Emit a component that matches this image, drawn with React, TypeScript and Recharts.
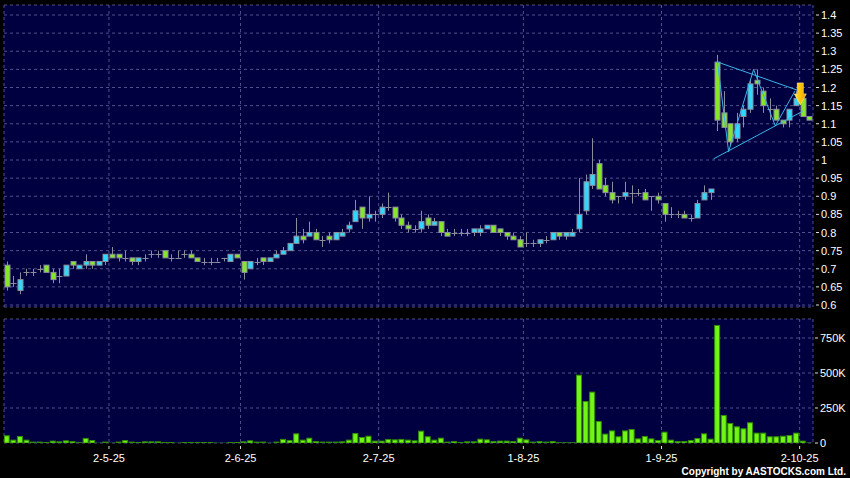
import { ComposedChart, Bar, XAxis, YAxis, CartesianGrid, ReferenceLine, ReferenceDot } from 'recharts';

// daily candles, oldest first
const opens = [
  0.71, 0.66, 0.64, 0.69, 0.69, 0.70, 0.71, 0.69, 0.68, 0.68, 0.72, 0.70, 0.71, 0.72, 0.71, 0.72, 0.74, 0.74, 0.73, 0.73,
  0.72, 0.73, 0.74, 0.74, 0.75, 0.73, 0.73, 0.74, 0.74, 0.73, 0.72, 0.72, 0.72, 0.73, 0.72, 0.74, 0.72, 0.70, 0.72, 0.73,
  0.72, 0.73, 0.74, 0.75, 0.77, 0.79, 0.79, 0.80, 0.78, 0.79, 0.78, 0.79, 0.81, 0.83, 0.87, 0.84, 0.85, 0.85, 0.87, 0.87,
  0.84, 0.82, 0.81, 0.81, 0.84, 0.82, 0.83, 0.80, 0.80, 0.80, 0.80, 0.80, 0.80, 0.81, 0.82, 0.81, 0.80, 0.79, 0.78, 0.77,
  0.77, 0.77, 0.78, 0.78, 0.80, 0.79, 0.79, 0.81, 0.86, 0.93, 0.99, 0.93, 0.91, 0.90, 0.90, 0.91, 0.91, 0.91, 0.90, 0.90,
  0.88, 0.85, 0.85, 0.85, 0.84, 0.84, 0.89, 0.91, 1.27, 1.13, 1.10, 1.06, 1.12, 1.14, 1.22, 1.19, 1.14, 1.14, 1.11, 1.11,
  1.15, 1.17, 1.12,
];
const highs = [
  0.72, 0.68, 0.69, 0.70, 0.70, 0.71, 0.71, 0.70, 0.70, 0.71, 0.72, 0.71, 0.74, 0.72, 0.72, 0.74, 0.76, 0.74, 0.75, 0.73,
  0.73, 0.74, 0.75, 0.75, 0.75, 0.74, 0.75, 0.75, 0.75, 0.73, 0.73, 0.73, 0.73, 0.73, 0.74, 0.74, 0.72, 0.72, 0.73, 0.73,
  0.73, 0.75, 0.76, 0.77, 0.84, 0.81, 0.83, 0.81, 0.79, 0.80, 0.80, 0.81, 0.83, 0.89, 0.87, 0.90, 0.86, 0.88, 0.91, 0.87,
  0.85, 0.83, 0.82, 0.86, 0.85, 0.84, 0.83, 0.81, 0.81, 0.81, 0.81, 0.81, 0.82, 0.82, 0.82, 0.81, 0.80, 0.80, 0.79, 0.80,
  0.78, 0.78, 0.79, 0.80, 0.80, 0.80, 0.81, 0.95, 0.96, 1.06, 1.00, 0.95, 0.94, 0.90, 0.94, 0.93, 0.92, 0.92, 0.90, 0.91,
  0.88, 0.87, 0.86, 0.86, 0.85, 0.89, 0.93, 0.92, 1.29, 1.19, 1.10, 1.13, 1.15, 1.22, 1.25, 1.20, 1.17, 1.15, 1.11, 1.14,
  1.19, 1.18, 1.12,
];
const lows = [
  0.64, 0.65, 0.63, 0.68, 0.68, 0.69, 0.69, 0.66, 0.66, 0.68, 0.70, 0.70, 0.70, 0.70, 0.71, 0.71, 0.73, 0.72, 0.72, 0.71,
  0.71, 0.72, 0.73, 0.73, 0.73, 0.72, 0.73, 0.73, 0.73, 0.72, 0.71, 0.71, 0.72, 0.72, 0.72, 0.73, 0.67, 0.70, 0.71, 0.71,
  0.72, 0.73, 0.74, 0.75, 0.77, 0.77, 0.79, 0.78, 0.76, 0.77, 0.78, 0.79, 0.80, 0.83, 0.81, 0.83, 0.83, 0.84, 0.86, 0.83,
  0.81, 0.80, 0.80, 0.80, 0.81, 0.82, 0.79, 0.79, 0.79, 0.79, 0.79, 0.79, 0.79, 0.81, 0.80, 0.79, 0.78, 0.78, 0.76, 0.76,
  0.76, 0.76, 0.77, 0.78, 0.78, 0.78, 0.79, 0.80, 0.85, 0.92, 0.92, 0.90, 0.88, 0.88, 0.89, 0.88, 0.90, 0.89, 0.86, 0.88,
  0.83, 0.84, 0.84, 0.84, 0.83, 0.84, 0.89, 0.89, 1.08, 1.09, 1.04, 1.05, 1.09, 1.13, 1.18, 1.13, 1.11, 1.11, 1.09, 1.09,
  1.15, 1.12, 1.11,
];
const closes = [
  0.65, 0.66, 0.67, 0.69, 0.69, 0.70, 0.69, 0.67, 0.68, 0.71, 0.71, 0.71, 0.72, 0.71, 0.72, 0.74, 0.73, 0.73, 0.73, 0.72,
  0.73, 0.73, 0.74, 0.74, 0.73, 0.73, 0.73, 0.74, 0.73, 0.72, 0.72, 0.72, 0.72, 0.73, 0.74, 0.73, 0.69, 0.72, 0.72, 0.72,
  0.73, 0.74, 0.75, 0.77, 0.79, 0.78, 0.80, 0.78, 0.78, 0.78, 0.80, 0.80, 0.82, 0.86, 0.84, 0.85, 0.85, 0.87, 0.87, 0.84,
  0.82, 0.81, 0.81, 0.83, 0.82, 0.83, 0.80, 0.79, 0.80, 0.80, 0.80, 0.81, 0.81, 0.82, 0.80, 0.80, 0.79, 0.78, 0.76, 0.77,
  0.77, 0.78, 0.78, 0.80, 0.79, 0.80, 0.80, 0.85, 0.94, 0.96, 0.92, 0.91, 0.89, 0.90, 0.91, 0.91, 0.91, 0.89, 0.90, 0.89,
  0.85, 0.85, 0.85, 0.84, 0.84, 0.88, 0.91, 0.92, 1.11, 1.09, 1.05, 1.10, 1.14, 1.21, 1.21, 1.15, 1.14, 1.11, 1.10, 1.14,
  1.17, 1.12, 1.11,
];
// volume in thousands of shares
const volumes = [
  55, 24, 50, 24, 10, 10, 7, 17, 12, 19, 14, 5, 36, 21, 2, 10, 2, 10, 21, 10,
  7, 12, 12, 12, 7, 7, 2, 7, 7, 7, 7, 7, 2, 2, 7, 7, 12, 19, 10, 10,
  2, 10, 29, 21, 69, 24, 38, 14, 10, 10, 10, 12, 24, 71, 43, 52, 17, 17, 29, 26,
  29, 24, 19, 88, 48, 24, 38, 10, 14, 7, 12, 12, 31, 26, 14, 17, 17, 14, 38, 26,
  10, 14, 10, 14, 5, 5, 5, 488, 300, 367, 157, 67, 90, 48, 90, 100, 33, 50, 33, 21,
  81, 24, 14, 14, 21, 36, 69, 31, 843, 200, 143, 119, 105, 148, 74, 74, 48, 48, 52, 57,
  74, 17, 3,
];

const dateTicks = [15.5, 35.5, 56.5, 78.5, 99.5, 120.5];
const dateLabels = ['2-5-25', '2-6-25', '2-7-25', '1-8-25', '1-9-25', '2-10-25'];
const priceTicks = [0.6, 0.65, 0.7, 0.75, 0.8, 0.85, 0.9, 0.95, 1, 1.05, 1.1, 1.15, 1.2, 1.25, 1.3, 1.35, 1.4];
const volumeTicks = [0, 250000, 500000, 750000];

// hand-drawn triangle + arrow on the last weeks
const upperLine = [{ x: 107.9, y: 1.271 }, { x: 120.1, y: 1.193 }];
const lowerLine = [{ x: 107.4, y: 1.003 }, { x: 121, y: 1.135 }];
const zigzag = [
  { x: 108, y: 1.271 },
  { x: 109.7, y: 1.023 },
  { x: 113.5, y: 1.25 },
  { x: 116.8, y: 1.094 },
  { x: 119.8, y: 1.191 },
];
const arrowTip = { x: 120.6, y: 1.152 };

const xDomain = [-0.46, 122.53];

const data = opens.map((o, i) => ({
  i,
  open: o,
  high: highs[i],
  low: lows[i],
  close: closes[i],
  range: [lows[i], highs[i]],
  volume: volumes[i] * 1000,
}));

const UP = '#2ed8ff';
const DOWN = '#86e62a';
const EDGE = '#8c8c9c';
const GRID = '#50508a';
const BG = '#000040';

function Candle(props: any) {
  const { x, y, width, height, payload } = props;
  const { open, close, high, low } = payload;
  const top = Math.min(y, y + height);
  const h = Math.abs(height);
  const py = (p: number) => top + ((high - p) / (high - low)) * h;
  const cx = Math.round(x + width / 2) + 0.5;
  const wick = <line x1={cx} x2={cx} y1={top} y2={top + h} stroke={EDGE} strokeWidth={1} />;
  if (open === close) {
    const yy = Math.round(py(open)) + 0.5;
    return (
      <g>
        {wick}
        <line x1={cx - 3} x2={cx + 3} y1={yy} y2={yy} stroke={EDGE} strokeWidth={1} />
      </g>
    );
  }
  const bTop = py(Math.max(open, close));
  const bBot = py(Math.min(open, close));
  return (
    <g>
      {wick}
      <rect
        x={cx - 2.5}
        y={bTop}
        width={5}
        height={Math.max(bBot - bTop, 1)}
        fill={close > open ? UP : DOWN}
        stroke={EDGE}
        strokeWidth={1}
      />
    </g>
  );
}

function VolBar(props: any) {
  const { x, y, width, height } = props;
  if (!height) return null;
  return <rect x={x + 0.5} y={y + 0.5} width={width - 1} height={Math.max(height - 0.5, 0.5)} fill="#72f516" stroke="#2f8f00" strokeWidth={1} />;
}

function Arrow(props: any) {
  const { cx, cy } = props;
  return (
    <g>
      <defs>
        <linearGradient id="arrowGold" x1="0" y1="0" x2="1" y2="0">
          <stop offset="0" stopColor="#ffe04a" />
          <stop offset="0.5" stopColor="#ffc400" />
          <stop offset="1" stopColor="#e59a00" />
        </linearGradient>
      </defs>
      <path
        d={`M${cx - 3},${cy - 22} L${cx + 3},${cy - 22} L${cx + 3},${cy - 11} L${cx + 6},${cy - 11} L${cx},${cy} L${cx - 6},${cy - 11} L${cx - 3},${cy - 11} Z`}
        fill="url(#arrowGold)"
        stroke="#fff2a0"
        strokeWidth={0.6}
      />
    </g>
  );
}

function PriceTick(props: any) {
  const { x, y, payload } = props;
  return (
    <g>
      <line x1={x + 3} x2={x + 6} y1={y} y2={y} stroke="#dddddd" />
      <text x={x + 8} y={y + 4} fill="#ffffff" fontSize={11}>
        {String(payload.value)}
      </text>
    </g>
  );
}

function VolTick(props: any) {
  const { x, y, payload } = props;
  const v = payload.value;
  return (
    <g>
      <line x1={x + 2} x2={x + 5} y1={y} y2={y} stroke="#dddddd" />
      <text x={x + 7} y={y + 4} fill="#ffffff" fontSize={11}>
        {v === 0 ? '0' : `${v / 1000}K`}
      </text>
    </g>
  );
}

function DateTick(props: any) {
  const { x, y, payload } = props;
  const k = dateTicks.indexOf(payload.value);
  return (
    <g>
      <line x1={x} x2={x} y1={y + 3} y2={y + 6} stroke="#dddddd" />
      <text x={x} y={y + 19} fill="#ffffff" fontSize={11} textAnchor="middle">
        {dateLabels[k]}
      </text>
    </g>
  );
}

export default function App() {
  return (
    <div
      style={{
        position: 'relative',
        width: 850,
        height: 478,
        background: '#000',
        fontFamily: 'Arial, "Liberation Sans", sans-serif',
        overflow: 'hidden',
      }}
    >
      <style>{'body{margin:0;background:#000}'}</style>
      <div style={{ position: 'absolute', left: 0, top: 0 }}>
        <ComposedChart width={850} height={312} data={data} margin={{ top: 5, right: 0, bottom: 5, left: 4 }}>
          <CartesianGrid stroke={GRID} strokeDasharray="3 3" fill={BG} fillOpacity={1} />
          <XAxis type="number" dataKey="i" domain={xDomain} ticks={dateTicks} hide allowDataOverflow />
          <YAxis
            orientation="right"
            width={37}
            domain={[0.5945, 1.4276]}
            ticks={priceTicks}
            axisLine={false}
            tickLine={false}
            tickSize={0}
            tickMargin={0}
            tick={<PriceTick />}
            allowDataOverflow
            interval={0}
          />
          <Bar dataKey="range" barSize={6} shape={<Candle />} isAnimationActive={false} />
          <ReferenceLine segment={upperLine} stroke="#38b4e8" strokeWidth={1} />
          <ReferenceLine segment={lowerLine} stroke="#38b4e8" strokeWidth={1} />
          {zigzag.slice(1).map((p, k) => (
            <ReferenceLine key={k} segment={[zigzag[k], p]} stroke="#38b4e8" strokeWidth={1} />
          ))}
          <ReferenceDot x={arrowTip.x} y={arrowTip.y} shape={(p: any) => <Arrow {...p} />} />
        </ComposedChart>
      </div>
      <div style={{ position: 'absolute', left: 0, top: 312 }}>
        <ComposedChart width={850} height={166} data={data} margin={{ top: 7, right: 0, bottom: 0, left: 4 }}>
          <CartesianGrid stroke={GRID} strokeDasharray="3 3" fill={BG} fillOpacity={1} />
          <XAxis
            type="number"
            dataKey="i"
            domain={xDomain}
            ticks={dateTicks}
            height={35}
            axisLine={false}
            tickLine={false}
            tickSize={0}
            tickMargin={0}
            tick={<DateTick />}
            allowDataOverflow
            interval={0}
          />
          <YAxis
            orientation="right"
            width={37}
            domain={[0, 885700]}
            ticks={volumeTicks}
            axisLine={false}
            tickLine={false}
            tickSize={0}
            tickMargin={0}
            tick={<VolTick />}
            allowDataOverflow
            interval={0}
          />
          <Bar dataKey="volume" barSize={6} shape={<VolBar />} isAnimationActive={false} />
        </ComposedChart>
      </div>
      <div
        style={{
          position: 'absolute',
          right: 4,
          top: 465,
          color: '#fff',
          fontSize: 10,
          fontWeight: 'bold',
          letterSpacing: 0,
          lineHeight: '13px',
          whiteSpace: 'nowrap',
        }}
      >
        Copyright by AASTOCKS.com Ltd.
      </div>
    </div>
  );
}
